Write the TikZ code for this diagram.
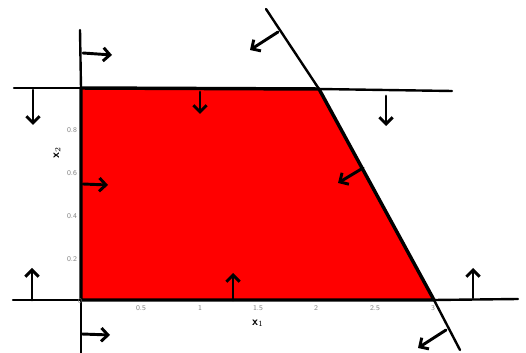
\documentclass[tikz,border=0pt]{standalone}
\usetikzlibrary{arrows.meta}
\begin{document}
\begin{tikzpicture}[x=0.75pt,y=-0.75pt,
  bound/.style={line width=2.6pt,line cap=round,line join=round},
  ext/.style={line width=1.8pt,line cap=round},
  dirarrow/.style={line width=2.2pt,line cap=round,-{Straight Barb[length=5pt,width=10pt,line width=2.2pt]}},
  tick/.style={font=\sffamily\fontsize{5.5}{5.5}\selectfont,text=gray,inner sep=0pt},
  axlabel/.style={font=\sffamily\small\bfseries,inner sep=0pt}]
\useasboundingbox (0,0) rectangle (526,353);
% corner coordinates
\coordinate (A) at (81,88);
\coordinate (B) at (319,89);
\coordinate (C) at (434,300);
\coordinate (D) at (81,300);
% extension ends
\coordinate (vtop) at (80,30);
\coordinate (vbot) at (81,353);
\coordinate (htl) at (14,88);
\coordinate (htr) at (452,91);
\coordinate (hbl) at (13,300);
\coordinate (hbr) at (518,299);
\coordinate (stop) at (266,9);
\coordinate (sbot) at (460,350);
% feasible region
\fill[red] (A) -- (B) -- (C) -- (D) -- cycle;
% constraint lines
\draw[ext] (vtop) -- (A);
\draw[ext] (D) -- (vbot);
\draw[ext] (htl) -- (A);
\draw[ext] (B) -- (htr);
\draw[ext] (hbl) -- (D);
\draw[ext] (C) -- (hbr);
\draw[ext] (stop) -- (B);
\draw[ext] (C) -- (sbot);
\draw[bound] (A) -- (B) -- (C) -- (D) -- cycle;
% direction arrows
\coordinate (a1s) at (83,53);   \coordinate (a1e) at (112,55);
\coordinate (a2s) at (33,90);   \coordinate (a2e) at (33,125);
\coordinate (a3s) at (200,92);  \coordinate (a3e) at (200,114);
\coordinate (a4s) at (386,96);  \coordinate (a4e) at (386,126);
\coordinate (a5s) at (278,32);  \coordinate (a5e) at (250,50);
\coordinate (a6s) at (363,168); \coordinate (a6e) at (338,183);
\coordinate (a7s) at (83,184);  \coordinate (a7e) at (108,185);
\coordinate (a8s) at (32,300);  \coordinate (a8e) at (32,268);
\coordinate (a9s) at (233,300); \coordinate (a9e) at (233,273);
\coordinate (a10s) at (473,298); \coordinate (a10e) at (473,268);
\coordinate (a11s) at (446,330); \coordinate (a11e) at (418,348);
\coordinate (a12s) at (82,334); \coordinate (a12e) at (110,335);
\foreach \i in {1,...,12}{\draw[dirarrow] (a\i s) -- (a\i e);}
% ticks
\node[tick] (y8) at (72,130) {0.8};
\node[tick] (y6) at (72,173) {0.6};
\node[tick] (y4) at (72,216) {0.4};
\node[tick] (y2) at (72,259) {0.2};
\node[tick] (y0) at (80,301) {0};
\node[tick] (x05) at (141,308) {0.5};
\node[tick] (x1) at (200,308) {1};
\node[tick] (x15) at (258,308) {1.5};
\node[tick] (x2) at (316,308) {2};
\node[tick] (x25) at (375,308) {2.5};
\node[tick] (x3) at (433,308) {3};
\node[axlabel] (lx1) at (258,323) {x$_1$};
\node[axlabel,rotate=90] (lx2) at (57,153) {x$_2$};
\end{tikzpicture}
\end{document}
